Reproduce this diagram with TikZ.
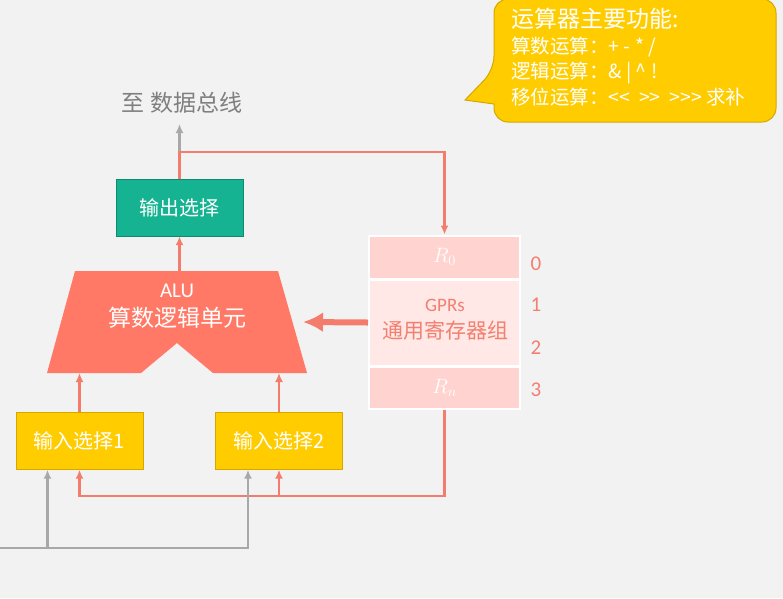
\documentclass[tikz,border=0pt]{standalone}
\usepackage{fontspec}
\setmainfont{Carlito}
\newfontfamily\cjk{Noto Sans CJK SC}
\usetikzlibrary{arrows.meta}
\definecolor{bg}{HTML}{F2F2F2}
\definecolor{gold}{HTML}{FFCC00}
\definecolor{golddark}{HTML}{D4A800}
\definecolor{teal0}{HTML}{16B393}
\definecolor{tealdark}{HTML}{0F8A6F}
\definecolor{alured}{HTML}{FF7966}
\definecolor{linered}{HTML}{F47C6C}
\definecolor{linegray}{HTML}{A8A8A8}
\definecolor{graytext}{HTML}{7F7F7F}
\definecolor{regdark}{HTML}{FFD3CF}
\definecolor{reglight}{HTML}{FFE8E5}
\definecolor{gprtext}{HTML}{F27F70}

\begin{document}
\begin{tikzpicture}[x=1pt,y=-1pt,>={Latex[length=9pt,width=8pt]},
  box/.style={minimum width=127pt,minimum height=57pt,inner sep=0pt,text=white,font=\cjk\fontsize{20}{22}\selectfont},
  reg/.style={minimum width=151pt,inner sep=0pt,draw=white,line width=2pt,text=white,font=\fontsize{21}{22}\selectfont},
  num/.style={text=gprtext,font=\fontsize{21}{22}\selectfont},
  redline/.style={draw=linered,line width=2.5pt},
  grayline/.style={draw=linegray,line width=2.5pt}]

\fill[bg] (0,0) rectangle (783,598);
\useasboundingbox (0,0) rectangle (783,598);

% callout
\filldraw[fill=gold,draw=golddark,line width=1pt] (465,100) -- (494,104)
  [rounded corners=14pt] -- (494,122) -- (776,122) -- (776,-1) -- (494,-1) -- (494,70)
  [sharp corners] -- cycle;
\node[anchor=north west,inner sep=0pt,align=left,text=white,font=\cjk\fontsize{19.5}{25.5}\selectfont] (note) at (511,8)
  {{\fontsize{23}{25.5}\selectfont 运算器主要功能:}\\
   算数运算：+ - * /\\
   逻辑运算：\& | \^{} !\\
   移位运算：<< \ >> \ >>> 求补};

% nodes
\node[text=graytext,font=\cjk\fontsize{23}{24}\selectfont] (bus) at (182,103) {至 数据总线};
\node[box,fill=teal0,draw=tealdark] (out) at (179.5,207.5) {输出选择};
\node[box,fill=gold,draw=golddark] (in1) at (79.5,441) {输入选择1};
\node[box,fill=gold,draw=golddark] (in2) at (279,441) {输入选择2};

% ALU
\fill[alured] (75,271) -- (278,271) -- (307,373) -- (213,373) -- (177,343) -- (141,373) -- (47,373) -- cycle;
\node[text=white,align=center,font=\fontsize{21}{29}\selectfont] (alu) at (177,306) {ALU\\{\cjk\fontsize{23}{29}\selectfont 算数逻辑单元}};
\coordinate (alutop) at (179.5,271);
\coordinate (alua) at (79.5,373);
\coordinate (alub) at (279,373);
\coordinate (aluin) at (303,322);

% GPRs
\node[reg,fill=regdark,minimum height=43pt] (r0) at (444.5,257) {$R_0$};
\node[reg,fill=reglight,minimum height=86pt] (gpr) at (444.5,322.5) {};
\node[reg,fill=regdark,minimum height=42pt] (rn) at (444.5,387.5) {$R_n$};
\node[text=gprtext,align=center,font=\fontsize{19}{27}\selectfont] (gprs) at (445,320) {GPRs\\{\cjk\fontsize{21}{27}\selectfont 通用寄存器组}};
\node[num] (n0) at (536,264) {0};
\node[num] (n1) at (536,305) {1};
\node[num] (n2) at (536,348) {2};
\node[num] (n3) at (536,390) {3};

% connectors
\coordinate (fb) at (444.5,496);
\coordinate (src) at (0,548);
\coordinate (bustip) at (179.5,124);
\draw[grayline,->] (out.north) -- (bustip);
\draw[redline,->] (out.north) -- ++(0,-27) -| (r0.north);
\draw[redline,->] (alutop) -- (out.south);
\draw[redline,->] (in1.north) -- (alua);
\draw[redline,->] (in2.north) -- (alub);
\draw[draw=linered,line width=6pt,-{Latex[length=20pt,width=20pt]}] (gpr.west) -- (aluin);
\draw[redline,->] (rn.south) -- (fb) -| (in1.south);
\draw[redline,->] (in2.south |- fb) -- (in2.south);
\draw[grayline,->] (src) -| ([xshift=-31pt]in2.south);
\draw[grayline,->] ([xshift=-32pt]in1.south |- src) -- ([xshift=-32pt]in1.south);
\end{tikzpicture}
\end{document}
